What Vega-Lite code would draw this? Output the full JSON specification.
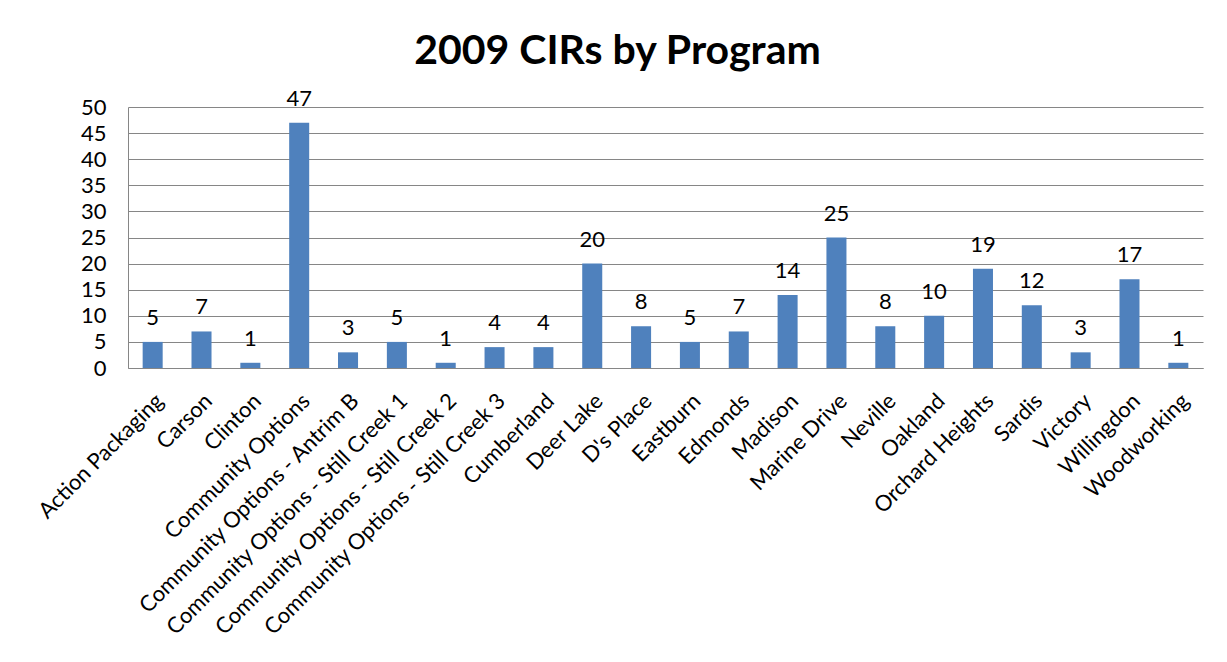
{
  "$schema": "https://vega.github.io/schema/vega-lite/v6.json",
  "autosize": {"type": "none"},
  "width": 1075,
  "height": 261,
  "padding": {"left": 128, "top": 107, "right": 24, "bottom": 294},
  "background": "white",
  "title": {
    "text": "2009 CIRs by Program",
    "font": "Lato",
    "fontSize": 41,
    "fontWeight": "bold",
    "color": "#000000",
    "anchor": "middle",
    "frame": "group",
    "offset": 15,
    "dx": -48
  },
  "data": {
    "values": [
      {"program": "Action Packaging", "cirs": 5},
      {"program": "Carson", "cirs": 7},
      {"program": "Clinton", "cirs": 1},
      {"program": "Community Options", "cirs": 47},
      {"program": "Community Options - Antrim B", "cirs": 3},
      {"program": "Community Options - Still Creek 1", "cirs": 5},
      {"program": "Community Options - Still Creek 2", "cirs": 1},
      {"program": "Community Options - Still Creek 3", "cirs": 4},
      {"program": "Cumberland", "cirs": 4},
      {"program": "Deer Lake", "cirs": 20},
      {"program": "D's Place", "cirs": 8},
      {"program": "Eastburn", "cirs": 5},
      {"program": "Edmonds", "cirs": 7},
      {"program": "Madison", "cirs": 14},
      {"program": "Marine Drive", "cirs": 25},
      {"program": "Neville", "cirs": 8},
      {"program": "Oakland", "cirs": 10},
      {"program": "Orchard Heights", "cirs": 19},
      {"program": "Sardis", "cirs": 12},
      {"program": "Victory", "cirs": 3},
      {"program": "Willingdon", "cirs": 17},
      {"program": "Woodworking", "cirs": 1}
    ]
  },
  "encoding": {
    "x": {
      "field": "program",
      "type": "nominal",
      "sort": null,
      "scale": {"paddingInner": 0.59, "paddingOuter": 0.3},
      "axis": {
        "title": null,
        "labelAngle": -45,
        "labelFont": "Lato",
        "labelFontSize": 22,
        "labelColor": "#000000",
        "labelPadding": 22,
        "ticks": false,
        "domainColor": "#868686",
        "labelLimit": 0
      }
    },
    "y": {
      "field": "cirs",
      "type": "quantitative",
      "scale": {"domain": [0, 50], "nice": false},
      "axis": {
        "title": null,
        "values": [0, 5, 10, 15, 20, 25, 30, 35, 40, 45, 50],
        "labelFont": "Lato",
        "labelFontSize": 22,
        "labelColor": "#000000",
        "labelPadding": 22,
        "ticks": false,
        "domainColor": "#868686",
        "gridColor": "#868686",
        "gridOpacity": 1
      }
    }
  },
  "layer": [
    {"mark": {"type": "bar", "color": "#4F81BD"}},
    {
      "mark": {"type": "text", "dy": -17, "baseline": "alphabetic", "font": "Lato", "fontSize": 22, "color": "#000000"},
      "encoding": {"text": {"field": "cirs", "type": "quantitative"}}
    }
  ],
  "config": {"view": {"stroke": null}}
}
